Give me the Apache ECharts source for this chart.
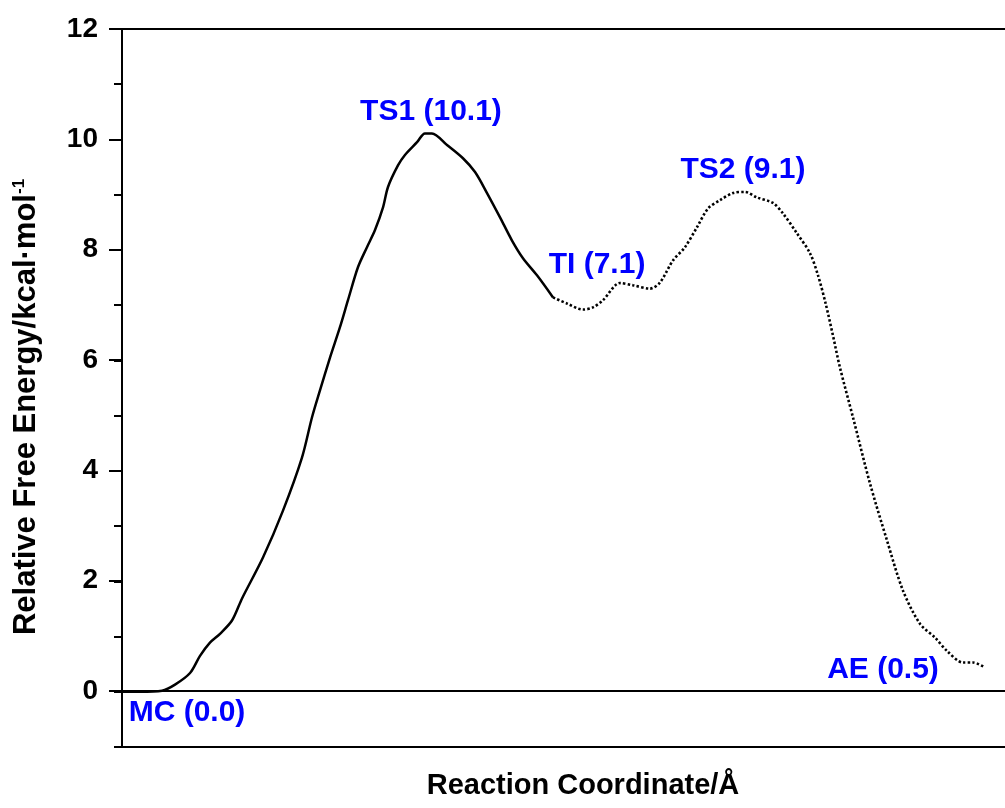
<!DOCTYPE html>
<html>
<head>
<meta charset="utf-8">
<script src="https://cdn.jsdelivr.net/npm/echarts@6/dist/echarts.min.js"></script>
<style>
html,body{margin:0;padding:0;background:#fff;}
#chart{width:1005px;height:808px;}
</style>
</head>
<body>
<div id="chart"></div>
<script>
// Reaction coordinate (arbitrary units, 0-100) and relative free energy (kcal/mol)
var solidX = [0.00, 1.95, 4.34, 5.75, 7.38, 8.46, 9.54, 10.63, 11.93, 13.02, 15.29, 17.46, 19.52, 20.61, 21.48, 22.56, 23.64, 24.51, 25.60, 26.57, 27.44, 28.31, 28.85, 29.93, 30.69, 32.00, 32.86, 33.62, 35.25, 36.98, 38.29, 39.59, 41.00, 42.30, 43.49, 45.01, 46.75];
var solidY = [0.00, 0.00, 0.02, 0.13, 0.34, 0.65, 0.89, 1.05, 1.29, 1.69, 2.43, 3.28, 4.24, 4.97, 5.46, 6.05, 6.60, 7.09, 7.69, 8.05, 8.36, 8.77, 9.14, 9.53, 9.72, 9.95, 10.11, 10.11, 9.90, 9.66, 9.41, 9.03, 8.59, 8.17, 7.85, 7.54, 7.14];
var dottedX = [46.75, 48.26, 50.00, 51.08, 52.17, 54.01, 55.42, 57.27, 58.35, 59.76, 61.06, 62.36, 63.56, 64.86, 66.27, 67.57, 68.87, 70.61, 71.69, 73.21, 74.62, 75.49, 76.36, 77.11, 77.87, 79.28, 81.13, 82.97, 84.71, 86.55, 88.18, 89.48, 91.21, 92.30, 93.60];
var dottedY = [7.14, 7.03, 6.92, 6.96, 7.09, 7.40, 7.36, 7.30, 7.41, 7.81, 8.05, 8.41, 8.75, 8.90, 9.03, 9.05, 8.95, 8.85, 8.66, 8.30, 7.94, 7.54, 7.00, 6.45, 5.87, 4.97, 3.77, 2.74, 1.83, 1.23, 0.98, 0.74, 0.53, 0.53, 0.44];

// Stationary points: labels and the data point each is attached to
var pointLabels = ['MC (0.0)', 'TS1 (10.1)', 'TI (7.1)', 'TS2 (9.1)', 'AE (0.5)'];
var pointSeries = ['solid', 'solid', 'solid', 'dotted', 'dotted'];
var pointIndex = [0, 26, 36, 15, 34];

var yTicksMajor = [0, 2, 4, 6, 8, 10, 12];

function pairs(xs, ys) { return xs.map(function (x, i) { return [x, ys[i]]; }); }

var labelOffsets = [[65, 21], [6, -22], [44, -33], [-2, -22], [-102, 2]];

function markPoints(which) {
  var out = [];
  pointLabels.forEach(function (lab, i) {
    if (pointSeries[i] !== which) return;
    var xs = which === 'solid' ? solidX : dottedX;
    var ys = which === 'solid' ? solidY : dottedY;
    out.push({
      coord: [xs[pointIndex[i]], ys[pointIndex[i]]],
      label: { formatter: lab, offset: labelOffsets[i] }
    });
  });
  return out;
}

var FONT = 'Liberation Sans, Arial, sans-serif';
var mpLabel = {
  show: true, position: 'inside', color: '#0000FF', fontFamily: FONT,
  fontWeight: 'bold', fontSize: 30
};

var chart = echarts.init(document.getElementById('chart'), null, { renderer: 'canvas' });
chart.setOption({
  animation: false,
  backgroundColor: '#ffffff',
  grid: [
    { left: 122, top: 29, width: 922, height: 718, outerBoundsMode: 'none', containLabel: false },
    { left: 122, top: 29, width: 922, height: 662, outerBoundsMode: 'none', containLabel: false }
  ],
  xAxis: [
    { gridIndex: 0, type: 'value', min: 0, max: 100, position: 'bottom',
      axisLine: { show: true, onZero: false, lineStyle: { color: '#000', width: 2 } },
      axisTick: { show: false }, axisLabel: { show: false }, splitLine: { show: false },
      name: 'Reaction Coordinate/Å', nameLocation: 'middle', nameGap: 24,
      nameTextStyle: { fontFamily: FONT, fontWeight: 'bold', fontSize: 29, color: '#000' } },
    { gridIndex: 0, type: 'value', min: 0, max: 100, position: 'top',
      axisLine: { show: true, onZero: false, lineStyle: { color: '#000', width: 2 } },
      axisTick: { show: false }, axisLabel: { show: false }, splitLine: { show: false } },
    { gridIndex: 1, type: 'value', min: 0, max: 100, position: 'bottom',
      axisLine: { show: true, onZero: false, lineStyle: { color: '#000', width: 2 } },
      axisTick: { show: false }, axisLabel: { show: false }, splitLine: { show: false } }
  ],
  yAxis: [
    { gridIndex: 0, type: 'value', min: -1, max: 12, interval: 1,
      axisLine: { show: true, onZero: false, lineStyle: { color: '#000', width: 2 } },
      axisTick: { show: true, inside: false, length: 8, lineStyle: { color: '#000', width: 2 } },
      axisLabel: { show: false }, splitLine: { show: false },
      name: '{a|Relative Free Energy/kcal·mol}{s|-1}', nameLocation: 'middle', nameRotate: 90, nameGap: 80,
      nameTextStyle: { padding: [0, 38, 0, 0], rich: {
        a: { fontFamily: FONT, fontWeight: 'bold', fontSize: 31, color: '#000' },
        s: { fontFamily: FONT, fontWeight: 'bold', fontSize: 17, color: '#000', verticalAlign: 'top', lineHeight: 31 }
      } } },
    { gridIndex: 1, type: 'value', min: 0, max: 12, interval: 2,
      axisLine: { show: true, onZero: false, lineStyle: { color: '#000', width: 2 } },
      axisTick: { show: true, inside: false, length: 13, lineStyle: { color: '#000', width: 2 } },
      axisLabel: { show: true, margin: 24, fontFamily: FONT, fontWeight: 'bold', fontSize: 28, color: '#000',
        formatter: function (v) { return yTicksMajor.indexOf(v) >= 0 ? String(v) : ''; } },
      splitLine: { show: false } }
  ],
  series: [
    { name: 'solid', type: 'line', xAxisIndex: 0, yAxisIndex: 0, data: pairs(solidX, solidY),
      smooth: 0.3, symbol: 'none', lineStyle: { color: '#000', width: 2.5 },
      markPoint: { symbol: 'circle', symbolSize: 0, label: mpLabel, data: markPoints('solid') } },
    { name: 'dotted', type: 'line', xAxisIndex: 0, yAxisIndex: 0, data: pairs(dottedX, dottedY),
      smooth: 0.3, symbol: 'none', lineStyle: { color: '#000', width: 2.6, type: [2.4, 2.2], cap: 'butt' },
      markPoint: { symbol: 'circle', symbolSize: 0, label: mpLabel, data: markPoints('dotted') } }
  ]
});
</script>
</body>
</html>
